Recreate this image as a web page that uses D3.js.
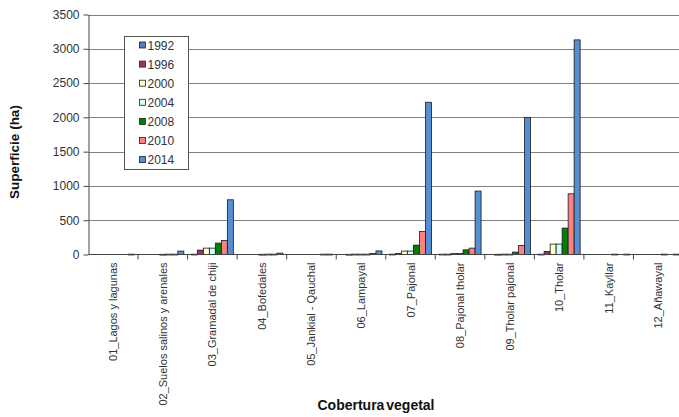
<!DOCTYPE html>
<html>
<head>
<meta charset="utf-8">
<script src="https://cdn.jsdelivr.net/npm/d3@7"></script>
<style>
  html, body { margin: 0; padding: 0; background: #fff; }
  svg { display: block; font-family: Arial, "Liberation Sans", sans-serif; }
</style>
</head>
<body>
<svg id="chart" width="679" height="417"></svg>
<script>
// Land-cover classes (x axis)
const categories = [
  "01_Lagos y lagunas",
  "02_Suelos salinos y arenales",
  "03_Gramadal de chiji",
  "04_Bofedales",
  "05_Jankial - Qauchal",
  "06_Lampayal",
  "07_Pajonal",
  "08_Pajonal tholar",
  "09_Tholar pajonal",
  "10_Tholar",
  "11_Kayllar",
  "12_Añawayal"
];

const years = ["1992", "1996", "2000", "2004", "2008", "2010", "2014"];

// Surface (ha) per class, one array per year
const v1992 = [0, 0, 5, 0, 0, 0, 5, 5, 0, 5, 0, 0];
const v1996 = [0, 0, 64, 0, 0, 3, 15, 5, 3, 44, 0, 0];
const v2000 = [0, 0, 93, 0, 0, 5, 50, 15, 5, 152, 0, 0];
const v2004 = [0, 3, 93, 3, 0, 5, 50, 15, 5, 152, 0, 0];
const v2008 = [0, 5, 166, 5, 0, 5, 137, 68, 35, 385, 5, 5];
const v2010 = [0, 5, 204, 5, 5, 15, 336, 93, 131, 885, 0, 0];
const v2014 = [5, 50, 798, 20, 5, 52, 2220, 925, 2000, 3130, 5, 5];

const yTicks = [0, 500, 1000, 1500, 2000, 2500, 3000, 3500];

const colors = ["#4f81bd", "#993366", "#ffffcc", "#ccffff", "#008000", "#ff8080", "#558ed5"];

const seriesValues = [v1992, v1996, v2000, v2004, v2008, v2010, v2014];
const series = years.map((y, i) => ({ year: y, values: seriesValues[i], color: colors[i] }));

const svg = d3.select("#chart");

const plotLeft = 88.5, plotRight = 683, plotTop = 14.5, plotBottom = 254.5;

const x0 = d3.scaleBand().domain(categories).range([plotLeft, plotRight]).paddingInner(0).paddingOuter(0);
const x1 = d3.scaleBand().domain(years).range([0, x0.bandwidth()]).paddingInner(0).paddingOuter(0.63);
const y = d3.scaleLinear().domain([0, 3500]).range([plotBottom, plotTop]);

// Horizontal gridlines
svg.append("g")
  .selectAll("line")
  .data(yTicks.filter(t => t > 0))
  .join("line")
  .attr("x1", plotLeft).attr("x2", 679)
  .attr("y1", d => Math.round(y(d)) + 0.5).attr("y2", d => Math.round(y(d)) + 0.5)
  .attr("stroke", "#808080").attr("stroke-width", 1);

// Bars
const rows = [];
series.forEach(s => s.values.forEach((v, i) => {
  if (v > 0) rows.push({ cat: categories[i], year: s.year, value: v, color: s.color });
}));

svg.append("g")
  .selectAll("rect")
  .data(rows)
  .join("rect")
  .attr("x", d => x0(d.cat) + x1(d.year))
  .attr("y", d => y(d.value))
  .attr("width", x1.bandwidth())
  .attr("height", d => Math.max(0.8, y(0) - y(d.value)))
  .attr("fill", d => d.color)
  .attr("stroke", "#1a1a1a")
  .attr("stroke-width", 0.8);

// Y axis
const yAxis = d3.axisLeft(y).tickValues(yTicks).tickFormat(d3.format("d"))
  .tickSize(5).tickSizeOuter(0).tickPadding(4);
const gy = svg.append("g").attr("transform", `translate(${plotLeft},0)`).call(yAxis);
gy.select(".domain").attr("stroke", "#444");
gy.selectAll(".tick line").attr("stroke", "#444");
gy.selectAll(".tick text").attr("font-size", 12).attr("fill", "#333")
  .attr("font-family", "Arial, 'Liberation Sans', sans-serif");

// X axis with ticks on category boundaries
const gx = svg.append("g").attr("transform", `translate(0,${plotBottom})`);
gx.append("line").attr("x1", plotLeft).attr("x2", 679).attr("y1", 0).attr("y2", 0).attr("stroke", "#444");
gx.selectAll("line.tk")
  .data(categories)
  .join("line")
  .attr("class", "tk")
  .attr("x1", d => x0(d) + x0.bandwidth()).attr("x2", d => x0(d) + x0.bandwidth())
  .attr("y1", 0).attr("y2", 5)
  .attr("stroke", "#444");
gx.selectAll("text")
  .data(categories)
  .join("text")
  .attr("transform", d => `translate(${x0(d) + x0.bandwidth() / 2 + 4},8) rotate(-90)`)
  .attr("text-anchor", "end")
  .attr("font-size", 11)
  .attr("fill", "#333")
  .text(d => d);

// Axis titles
svg.append("text")
  .attr("transform", "translate(19,152) rotate(-90)")
  .attr("text-anchor", "middle")
  .attr("font-size", 13.5).attr("font-weight", "bold").attr("fill", "#111")
  .text("Superficie (ha)");

svg.append("text")
  .attr("x", 376).attr("y", 410)
  .attr("text-anchor", "middle")
  .attr("font-size", 14).attr("font-weight", "bold").attr("fill", "#111")
  .attr("word-spacing", "-2px")
  .text("Cobertura vegetal");

// Legend
const legend = svg.append("g");
legend.append("rect")
  .attr("x", 124.5).attr("y", 36.5).attr("width", 64).attr("height", 133)
  .attr("fill", "#fff").attr("stroke", "#555").attr("stroke-width", 1);
const items = legend.selectAll("g.item")
  .data(series)
  .join("g")
  .attr("class", "item")
  .attr("transform", (d, i) => `translate(0,${45 + i * 19.1})`);
items.append("rect")
  .attr("x", 139.5).attr("y", -3).attr("width", 6).attr("height", 6)
  .attr("fill", d => d.color).attr("stroke", "#222").attr("stroke-width", 0.8);
items.append("text")
  .attr("x", 147.5).attr("y", 4.5)
  .attr("font-size", 12).attr("fill", "#333")
  .text(d => d.year);
</script>
</body>
</html>
